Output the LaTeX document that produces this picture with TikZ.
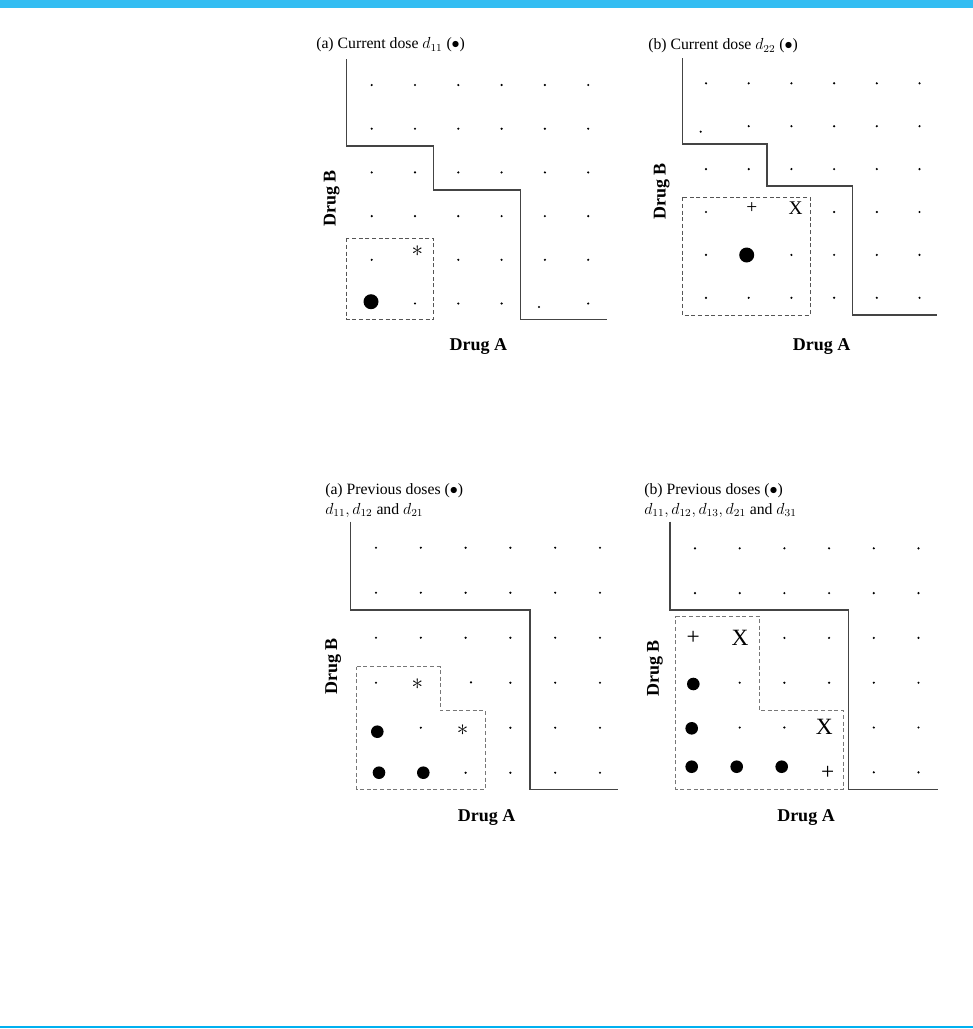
\documentclass[tikz,border=0pt]{standalone}
\usepackage{fontspec}
\setmainfont{Liberation Serif}
\definecolor{barblue}{HTML}{33BDF2}
\definecolor{lineblue}{HTML}{00B0F0}
\definecolor{stair}{HTML}{444444}
\definecolor{dashg}{HTML}{555555}
\definecolor{dashl}{HTML}{777777}
\tikzset{
  stairline/.style={draw=stair, line width=1.1pt},
  dashbox/.style={draw=dashg, line width=0.75pt, dash pattern=on 3pt off 2pt},
  smalldot/.style={fill=black},
  bigdot/.style={fill=black},
  ttl/.style={anchor=west, inner sep=0pt, font=\fontsize{11.8}{14}\selectfont},
  axlab/.style={inner sep=0pt, font=\fontsize{13.5}{15}\selectfont\bfseries},
  mark sym/.style={inner sep=0pt, font=\fontsize{14.5}{16}\selectfont},
  big sym/.style={inner sep=0pt, font=\fontsize{17.5}{19}\selectfont},
  star sym/.style={inner sep=0pt, font=\fontsize{17}{19}\selectfont},
}
\newcommand{\skipdot}[1]{\expandafter\def\csname sk#1\endcsname{}}
\newcommand{\gridpanel}[5]{% #1 id, #2 x0, #3 dx, #4 y0, #5 dy
  \foreach \r in {0,...,5}{
    \foreach \c in {0,...,5}{
      \ifcsname sk#1-\c-\r\endcsname\else
        \fill[smalldot] ({#2+\c*#3},{#4+\r*#5}) circle[radius=1.2];
      \fi
    }
  }
}
\skipdot{A-0-5}\skipdot{A-1-4}\skipdot{A-4-5}
\skipdot{B-0-1}\skipdot{B-1-3}\skipdot{B-2-3}\skipdot{B-1-4}
\skipdot{C-1-3}\skipdot{C-0-4}\skipdot{C-2-4}\skipdot{C-0-5}\skipdot{C-1-5}\skipdot{C-2-3}
\skipdot{D-0-2}\skipdot{D-1-2}\skipdot{D-0-3}\skipdot{D-0-4}\skipdot{D-3-4}\skipdot{D-0-5}\skipdot{D-1-5}\skipdot{D-2-5}\skipdot{D-3-5}
\begin{document}
\begin{tikzpicture}[x=0.75pt,y=-0.75pt]
\useasboundingbox (0,0) rectangle (973,1029);
\fill[barblue] (0,0) rectangle (973,8);
\fill[lineblue] (0,1026.3) rectangle (973,1028.3);

% ---------- Panel A (top left)
\node[ttl] (tA) at (316,45) {(a) Current dose $d_{11}$ ($\bullet$)};
\gridpanel{A}{371.7}{43.3}{85}{43.7}
\fill[smalldot] (539,307) circle[radius=1.2];
\draw[stairline] (346.7,59.3) -- (346.7,146) -- (433.7,146) -- (433.7,190) -- (520.7,190) -- (520.7,319.3) -- (606.7,319.3);
\draw[dashbox] (346.7,238.3) rectangle (433.7,319.3);
\fill[bigdot] (371,301.7) circle[radius=7.5];
\node[star sym] (sA) at (417.3,251.5) {$\ast$};
\node[axlab, rotate=90] (bA) at (331.7,198.3) {Drug B};
\node[axlab] (aA) at (478.3,346.7) {Drug A};

% ---------- Panel B (top right)
\node[ttl] (tB) at (648,46) {(b) Current dose $d_{22}$ ($\bullet$)};
\gridpanel{B}{706}{42.7}{83.3}{42.9}
\fill[smalldot] (700.7,131.7) circle[radius=1.2];
\draw[stairline] (682.3,58.3) -- (682.3,144) -- (767,144) -- (767,186) -- (852.7,186) -- (852.7,315) -- (937.3,315);
\draw[dashbox] (682.3,197.3) rectangle (810.3,315);
\fill[bigdot] (746.7,255) circle[radius=7.5];
\node[mark sym] (pB) at (751.7,208.5) {+};
\node[mark sym] (xB) at (795.7,208) {X};
\node[axlab, rotate=90] (bB) at (661.7,191.7) {Drug B};
\node[axlab] (aB) at (821.7,346.7) {Drug A};

% ---------- Panel C (bottom left)
\node[ttl] (tC1) at (325,490.7) {(a) Previous doses ($\bullet$)};
\node[ttl] (tC2) at (325,510.5) {$d_{11}, d_{12}$ and $d_{21}$};
\gridpanel{C}{376}{44.8}{547.7}{45}
\fill[smalldot] (471,682.3) circle[radius=1.2];
\draw[stairline] (350.7,521.7) -- (350.7,610) -- (530,610) -- (530,789.3) -- (618.3,789.3);
\draw[dashbox, draw=dashl] (356.7,666.7) -- (440,666.7) -- (440,710.7) -- (485.7,710.7) -- (485.7,789.3) -- (356.7,789.3) -- cycle;
\fill[bigdot] (377.3,731.7) circle[radius=6.3];
\fill[bigdot] (379,772.7) circle[radius=6.3];
\fill[bigdot] (423.3,772.7) circle[radius=6.3];
\node[star sym] (sC1) at (417.3,684) {$\ast$};
\node[star sym] (sC2) at (462.7,730) {$\ast$};
\node[axlab, rotate=90] (bC) at (333.3,666.7) {Drug B};
\node[axlab] (aC) at (486.7,817.3) {Drug A};

% ---------- Panel D (bottom right)
\node[ttl] (tD1) at (644,490.7) {(b) Previous doses ($\bullet$)};
\node[ttl] (tD2) at (644,510.5) {$d_{11}, d_{12}, d_{13}, d_{21}$ and $d_{31}$};
\gridpanel{D}{695}{44.7}{548.3}{44.8}
\draw[stairline] (670,521.7) -- (670,610) -- (848.7,610) -- (848.7,789.3) -- (938.3,789.3);
\draw[dashbox, draw=dashl] (675.7,616) -- (759.3,616) -- (759.3,710.7) -- (843.3,710.7) -- (843.3,789.3) -- (675.7,789.3) -- cycle;
\fill[bigdot] (693.3,684) circle[radius=6.3];
\fill[bigdot] (691.7,728.3) circle[radius=6.3];
\fill[bigdot] (691.7,766.7) circle[radius=6.3];
\fill[bigdot] (736.7,766.7) circle[radius=6.3];
\fill[bigdot] (781.7,766.7) circle[radius=6.3];
\node[big sym] (pD1) at (693.3,638.3) {+};
\node[big sym] (xD1) at (740,637.7) {X};
\node[big sym] (xD2) at (824.3,726.7) {X};
\node[big sym] (pD2) at (827.7,772.7) {+};
\node[axlab, rotate=90] (bD) at (655,668.3) {Drug B};
\node[axlab] (aD) at (806,817.3) {Drug A};
\end{tikzpicture}
\end{document}
